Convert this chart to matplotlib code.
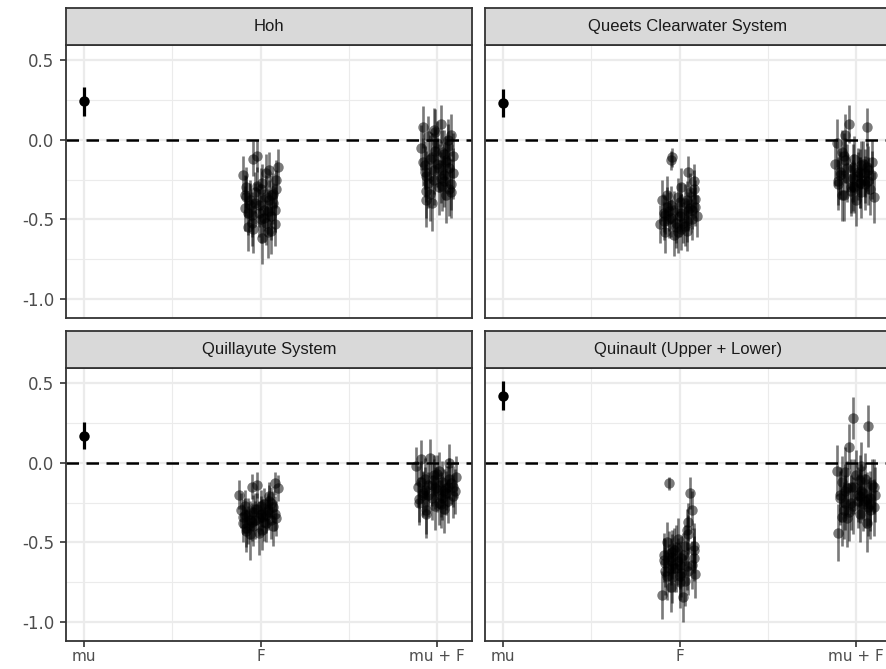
import matplotlib.pyplot as plt
from matplotlib.ticker import FixedLocator

plt.rcParams['font.family'] = ['Liberation Sans', 'DejaVu Sans']

panels = ['Hoh', 'Queets Clearwater System', 'Quillayute System', 'Quinault (Upper + Lower)']
x_labels = ['mu', 'F', 'mu + F']

# mu estimate and half-width of interval per panel
mu_est = [0.24, 0.23, 0.17, 0.42]
mu_err = [0.09, 0.09, 0.085, 0.09]

# F estimates (jitter offset, estimate, half-width)
hoh_f_off = [-0.10, -0.09, -0.08, -0.07, -0.06, -0.05, -0.04, -0.03, -0.02, -0.01, 0.00, 0.01, 0.02, 0.03, 0.04, 0.05,
             0.06, 0.07, 0.08, 0.09, 0.10, -0.08, -0.05, -0.02, 0.01, 0.04, 0.07, -0.06, -0.01, 0.03, 0.06, 0.09,
             -0.09, -0.07, -0.03, 0.00, 0.02, 0.05, 0.08, -0.04, 0.03, 0.06]
hoh_f_est = [-0.22, -0.43, -0.30, -0.55, -0.38, -0.47, -0.12, -0.33, -0.10, -0.41, -0.50, -0.27, -0.44, -0.36, -0.58, -0.19,
             -0.48, -0.40, -0.53, -0.25, -0.17, -0.36, -0.52, -0.29, -0.62, -0.45, -0.34, -0.41, -0.46, -0.52, -0.57, -0.31,
             -0.35, -0.46, -0.40, -0.31, -0.49, -0.38, -0.44, -0.56, -0.21, -0.35]
hoh_f_err = [0.12, 0.14, 0.13, 0.15, 0.13, 0.14, 0.11, 0.13, 0.10, 0.14, 0.15, 0.12, 0.13, 0.14, 0.16, 0.11,
             0.15, 0.13, 0.14, 0.12, 0.11, 0.13, 0.15, 0.12, 0.16, 0.14, 0.13, 0.14, 0.15, 0.14, 0.15, 0.12,
             0.13, 0.14, 0.13, 0.13, 0.15, 0.13, 0.14, 0.15, 0.12, 0.13]

queets_f_off = [-0.11, -0.10, -0.09, -0.08, -0.07, -0.06, -0.05, -0.04, -0.03, -0.02, -0.01, 0.00, 0.01, 0.02, 0.03, 0.04,
                0.05, 0.06, 0.07, 0.08, 0.09, 0.10, -0.09, -0.06, -0.03, 0.00, 0.03, 0.06, 0.09, -0.05, 0.01, 0.05,
                -0.08, -0.05, -0.02, 0.01, 0.04, 0.07, -0.07, -0.01, 0.04, 0.08]
queets_f_est = [-0.53, -0.38, -0.46, -0.58, -0.42, -0.50, -0.13, -0.11, -0.44, -0.55, -0.36, -0.48, -0.30, -0.52, -0.40, -0.57,
                -0.45, -0.33, -0.50, -0.26, -0.42, -0.48, -0.51, -0.45, -0.60, -0.39, -0.54, -0.43, -0.37, -0.49, -0.56, -0.20,
                -0.47, -0.41, -0.52, -0.46, -0.38, -0.44, -0.35, -0.58, -0.51, -0.31]
queets_f_err = [0.12, 0.13, 0.12, 0.13, 0.12, 0.12, 0.06, 0.06, 0.12, 0.13, 0.12, 0.13, 0.12, 0.13, 0.12, 0.13,
                0.12, 0.12, 0.13, 0.11, 0.12, 0.13, 0.12, 0.12, 0.13, 0.12, 0.13, 0.12, 0.12, 0.12, 0.13, 0.10,
                0.12, 0.12, 0.13, 0.12, 0.12, 0.12, 0.12, 0.13, 0.13, 0.12]

quill_f_off = [-0.12, -0.11, -0.10, -0.09, -0.08, -0.07, -0.06, -0.05, -0.04, -0.03, -0.02, -0.01, 0.00, 0.01, 0.02, 0.03,
               0.04, 0.05, 0.06, 0.07, 0.08, 0.09, 0.10, -0.10, -0.07, -0.04, -0.01, 0.02, 0.05, 0.08, -0.06, 0.00,
               -0.09, -0.05, -0.02, 0.01, 0.04, 0.07, -0.08, -0.03, 0.03, 0.06]
quill_f_est = [-0.20, -0.30, -0.38, -0.27, -0.43, -0.33, -0.36, -0.15, -0.40, -0.29, -0.14, -0.35, -0.32, -0.42, -0.26, -0.38,
               -0.30, -0.21, -0.36, -0.28, -0.13, -0.35, -0.16, -0.34, -0.39, -0.31, -0.44, -0.37, -0.24, -0.32, -0.45, -0.27,
               -0.33, -0.37, -0.29, -0.34, -0.31, -0.40, -0.41, -0.36, -0.33, -0.25]
quill_f_err = [0.09, 0.11, 0.12, 0.10, 0.13, 0.11, 0.12, 0.08, 0.12, 0.10, 0.08, 0.11, 0.11, 0.13, 0.10, 0.12,
               0.11, 0.09, 0.12, 0.10, 0.07, 0.11, 0.08, 0.11, 0.12, 0.11, 0.14, 0.12, 0.10, 0.11, 0.16, 0.10,
               0.11, 0.12, 0.10, 0.11, 0.11, 0.12, 0.12, 0.12, 0.11, 0.10]

quin_f_off = [-0.10, -0.09, -0.08, -0.07, -0.06, -0.05, -0.04, -0.03, -0.02, -0.01, 0.00, 0.01, 0.02, 0.03, 0.04, 0.05,
              0.06, 0.07, 0.08, 0.09, -0.06, -0.08, -0.05, -0.02, 0.01, 0.04, 0.07, -0.04, 0.00, 0.05, 0.08, -0.03,
              -0.09, -0.06, -0.04, -0.01, 0.02, 0.05, 0.08, -0.07, 0.00, 0.03]
quin_f_est = [-0.83, -0.58, -0.68, -0.50, -0.13, -0.62, -0.72, -0.55, -0.66, -0.48, -0.75, -0.60, -0.84, -0.52, -0.65, -0.45,
              -0.19, -0.30, -0.60, -0.70, -0.57, -0.63, -0.78, -0.53, -0.69, -0.42, -0.64, -0.59, -0.71, -0.37, -0.52, -0.66,
              -0.61, -0.66, -0.56, -0.62, -0.58, -0.68, -0.55, -0.71, -0.64, -0.74]
quin_f_err = [0.15, 0.14, 0.15, 0.13, 0.04, 0.15, 0.16, 0.14, 0.15, 0.13, 0.16, 0.14, 0.16, 0.13, 0.15, 0.12,
              0.10, 0.12, 0.14, 0.15, 0.14, 0.15, 0.16, 0.14, 0.15, 0.13, 0.15, 0.14, 0.15, 0.12, 0.14, 0.15,
              0.14, 0.15, 0.14, 0.15, 0.14, 0.15, 0.14, 0.15, 0.15, 0.16]

# mu + F estimates
hoh_mf_off = [-0.09, -0.08, -0.07, -0.06, -0.05, -0.04, -0.03, -0.02, -0.01, 0.00, 0.01, 0.02, 0.03, 0.04, 0.05, 0.06,
              0.07, 0.08, 0.09, -0.07, -0.04, -0.01, 0.02, 0.05, 0.08, -0.06, -0.02, 0.03, 0.06, 0.09, -0.03, 0.04,
              -0.08, -0.05, -0.02, 0.01, 0.04, 0.07, -0.06, 0.00, 0.05, 0.08]
hoh_mf_est = [-0.05, 0.08, -0.20, -0.32, 0.02, -0.12, -0.40, -0.25, 0.05, -0.15, -0.30, 0.10, -0.08, -0.22, -0.35, 0.00,
              -0.18, -0.28, -0.10, -0.16, -0.34, -0.07, -0.24, -0.13, 0.03, -0.38, -0.19, -0.29, -0.04, -0.21, -0.11, -0.26,
              -0.14, -0.27, 0.06, -0.18, -0.09, -0.31, -0.23, -0.02, -0.14, -0.33]
hoh_mf_err = [0.14, 0.13, 0.16, 0.17, 0.13, 0.15, 0.17, 0.16, 0.14, 0.15, 0.17, 0.12, 0.14, 0.16, 0.17, 0.13,
              0.15, 0.16, 0.14, 0.15, 0.17, 0.14, 0.16, 0.15, 0.13, 0.17, 0.15, 0.16, 0.14, 0.16, 0.15, 0.16,
              0.15, 0.16, 0.14, 0.15, 0.15, 0.17, 0.16, 0.14, 0.15, 0.16]

queets_mf_off = [-0.12, -0.11, -0.10, -0.09, -0.08, -0.07, -0.06, -0.05, -0.04, -0.03, -0.02, -0.01, 0.00, 0.01, 0.02, 0.03,
                 0.04, 0.05, 0.06, 0.07, 0.08, 0.09, 0.10, -0.10, -0.06, -0.02, 0.02, 0.06, -0.08, -0.03, 0.01, 0.05,
                 -0.09, -0.05, -0.01, 0.03, 0.07, -0.07, -0.02, 0.02, 0.05, 0.09]
queets_mf_est = [-0.15, -0.02, -0.28, -0.22, -0.35, -0.10, 0.03, -0.18, 0.10, -0.30, -0.24, -0.12, -0.38, -0.20, -0.27, -0.33,
                 -0.15, -0.25, 0.08, -0.19, -0.31, -0.22, -0.36, -0.26, -0.13, -0.29, -0.21, -0.17, -0.08, -0.32, -0.23, -0.28,
                 -0.20, -0.24, -0.30, -0.16, -0.26, -0.35, -0.18, -0.27, -0.21, -0.14]
queets_mf_err = [0.14, 0.15, 0.16, 0.15, 0.16, 0.14, 0.13, 0.15, 0.12, 0.16, 0.15, 0.14, 0.16, 0.15, 0.16, 0.16,
                 0.14, 0.15, 0.12, 0.15, 0.16, 0.15, 0.16, 0.15, 0.14, 0.16, 0.15, 0.15, 0.14, 0.16, 0.15, 0.16,
                 0.15, 0.15, 0.16, 0.15, 0.15, 0.16, 0.15, 0.16, 0.15, 0.14]

quill_mf_off = [-0.12, -0.11, -0.10, -0.09, -0.08, -0.07, -0.06, -0.05, -0.04, -0.03, -0.02, -0.01, 0.00, 0.01, 0.02, 0.03,
                0.04, 0.05, 0.06, 0.07, 0.08, 0.09, 0.10, 0.11, -0.10, -0.06, -0.02, 0.02, 0.06, -0.08, 0.00, 0.04,
                -0.09, -0.05, -0.01, 0.03, 0.07, -0.07, -0.03, 0.01, 0.05, 0.09]
quill_mf_est = [-0.02, -0.15, -0.25, 0.02, -0.19, -0.10, -0.30, -0.14, 0.03, -0.22, -0.08, -0.27, -0.17, -0.05, -0.20, -0.12,
                -0.29, -0.16, -0.24, 0.00, -0.13, -0.21, -0.18, -0.09, -0.23, -0.32, -0.11, -0.26, -0.15, -0.20, -0.07, -0.18,
                -0.12, -0.20, -0.16, -0.22, -0.10, -0.17, -0.14, -0.25, -0.19, -0.15]
quill_mf_err = [0.12, 0.13, 0.14, 0.12, 0.14, 0.13, 0.15, 0.13, 0.12, 0.14, 0.13, 0.15, 0.14, 0.12, 0.14, 0.13,
                0.15, 0.14, 0.14, 0.12, 0.13, 0.14, 0.14, 0.13, 0.14, 0.15, 0.13, 0.15, 0.13, 0.14, 0.12, 0.14,
                0.13, 0.14, 0.13, 0.14, 0.13, 0.14, 0.13, 0.14, 0.14, 0.13]

quin_mf_off = [-0.11, -0.10, -0.09, -0.08, -0.07, -0.06, -0.05, -0.04, -0.03, -0.02, -0.01, 0.00, 0.01, 0.02, 0.03, 0.04,
               0.05, 0.06, 0.07, 0.08, 0.09, 0.10, 0.11, -0.08, -0.05, -0.02, 0.02, 0.05, 0.08, -0.06, 0.03, 0.06,
               -0.09, -0.06, -0.03, 0.01, 0.04, 0.07, 0.10, -0.04, 0.02, 0.08]
quin_mf_est = [-0.05, -0.44, -0.22, -0.12, -0.30, -0.18, -0.35, 0.10, -0.25, 0.28, -0.15, -0.08, -0.20, -0.32, -0.02, -0.26,
               -0.10, -0.38, 0.23, -0.22, -0.14, -0.28, -0.20, -0.34, -0.16, -0.27, -0.11, -0.24, -0.30, -0.06, -0.18, -0.23,
               -0.20, -0.25, -0.15, -0.24, -0.19, -0.28, -0.15, -0.31, -0.21, -0.26]
quin_mf_err = [0.16, 0.18, 0.17, 0.16, 0.18, 0.17, 0.18, 0.14, 0.17, 0.13, 0.17, 0.16, 0.17, 0.18, 0.15, 0.17,
               0.16, 0.18, 0.13, 0.17, 0.16, 0.18, 0.17, 0.18, 0.17, 0.18, 0.16, 0.17, 0.18, 0.16, 0.17, 0.17,
               0.17, 0.17, 0.17, 0.17, 0.17, 0.18, 0.17, 0.18, 0.17, 0.17]

f_data = [(hoh_f_off, hoh_f_est, hoh_f_err), (queets_f_off, queets_f_est, queets_f_err),
          (quill_f_off, quill_f_est, quill_f_err), (quin_f_off, quin_f_est, quin_f_err)]
mf_data = [(hoh_mf_off, hoh_mf_est, hoh_mf_err), (queets_mf_off, queets_mf_est, queets_mf_err),
           (quill_mf_off, quill_mf_est, quill_mf_err), (quin_mf_off, quin_mf_est, quin_mf_err)]

W, H = 886, 669
fig = plt.figure(figsize=(W / 100, H / 100), dpi=100)

# panel boxes in pixels: (left, top); sizes shared
pw, ph, sh = 406, 273, 37
panel_pos = [(66, 45), (485, 45), (66, 368), (485, 368)]

dark = '#333333'
for i, name in enumerate(panels):
    left, top = panel_pos[i]
    ax = fig.add_axes([left / W, (H - top - ph) / H, pw / W, ph / H])
    sx = fig.add_axes([left / W, (H - top) / H, pw / W, sh / H])

    # strip
    sx.set_facecolor('#D9D9D9')
    sx.set_xticks([])
    sx.set_yticks([])
    for s in sx.spines.values():
        s.set_color(dark)
        s.set_linewidth(1.3)
    sx.text(0.5, 0.5, name, ha='center', va='center', fontsize=12, color='#1A1A1A',
            transform=sx.transAxes)

    # grid
    ax.set_xlim(-0.102, 2.198)
    ax.set_ylim(-1.119, 0.594)
    ax.set_xticks([0, 1, 2])
    ax.set_yticks([0.5, 0.0, -0.5, -1.0])
    ax.xaxis.set_minor_locator(FixedLocator([0.5, 1.5]))
    ax.yaxis.set_minor_locator(FixedLocator([0.25, -0.25, -0.75]))
    ax.grid(True, which='major', color='#EBEBEB', linewidth=1.6)
    ax.grid(True, which='minor', color='#EBEBEB', linewidth=0.8)
    ax.set_axisbelow(True)
    for s in ax.spines.values():
        s.set_color(dark)
        s.set_linewidth(1.3)
    ax.tick_params(which='minor', length=0)
    ax.tick_params(which='major', length=4.5, width=1.2, color=dark, labelcolor='#4D4D4D')
    ax.tick_params(axis='y', labelsize=12, pad=4)
    ax.tick_params(axis='x', labelsize=11, pad=1.5)

    if i in (0, 2):
        ax.set_yticklabels(['0.5', '0.0', '-0.5', '-1.0'], family='DejaVu Sans')
    else:
        ax.tick_params(axis='y', which='major', length=0, labelleft=False)
    if i in (2, 3):
        ax.set_xticklabels(x_labels, family='DejaVu Sans')
    else:
        ax.tick_params(axis='x', which='major', length=0, labelbottom=False)

    ax.axhline(0, color='black', linewidth=1.8, dashes=(5, 3), zorder=2)

    # F and mu + F clusters
    for centre, (off, est, err) in ((1, f_data[i]), (2, mf_data[i])):
        xs = [centre + o for o in off]
        ax.errorbar(xs, est, yerr=err, fmt='o', color='black', alpha=0.52,
                    markersize=7.5, markeredgewidth=0, elinewidth=1.9, capsize=0, zorder=3)

    # mu
    ax.errorbar([0], [mu_est[i]], yerr=[mu_err[i]], fmt='o', color='black',
                markersize=7.5, markeredgewidth=0, elinewidth=2.3, capsize=0, zorder=4)

fig.savefig('out.png', dpi=100)
